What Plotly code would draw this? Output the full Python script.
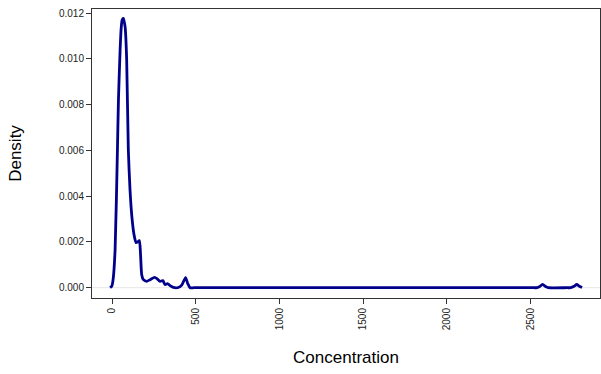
import plotly.graph_objects as go

# Density curve points (Concentration vs Density)
concentration = [-12, -2, 6, 18, 32, 38, 48, 54, 60, 67.5, 73, 78, 87, 97, 107, 118, 131, 143, 152, 163,
                 170, 177, 187, 207, 227, 254, 269, 287, 303, 317, 331, 346, 366, 396, 416, 439, 452, 466,
                 490, 1500, 2520,
                 2540, 2555, 2572, 2590, 2605, 2720, 2740, 2760, 2776, 2792, 2808]
density = [0.0, 0.00006, 0.00035, 0.00166, 0.00604, 0.0082, 0.0104, 0.0113, 0.0117, 0.01177, 0.0116,
           0.01139, 0.00999, 0.00604, 0.00429, 0.00312, 0.00232, 0.00197, 0.0020, 0.00206,
           0.00145, 0.00057, 0.00035, 0.00028, 0.00035, 0.00045, 0.00039, 0.00028, 0.00031, 0.00013,
           0.00018, 0.00009, 0.00001, 0.00001, 0.00011, 0.00044, 0.00018, 0.0,
           0.0, 0.0, 0.0,
           0.0, 0.00005, 0.00014, 0.00005, 0.0, 0.0, 0.0, 0.00006, 0.00014, 0.00006, 0.00001]

x_ticks = [0, 500, 1000, 1500, 2000, 2500]
y_ticks = [0.000, 0.002, 0.004, 0.006, 0.008, 0.010, 0.012]
y_tick_labels = ["0.000", "0.002", "0.004", "0.006", "0.008", "0.010", "0.012"]

fig = go.Figure()
fig.add_hline(y=0, line=dict(color="#e6e6e6", width=1), layer="below")
fig.add_trace(go.Scatter(
    x=concentration, y=density, mode="lines",
    line=dict(color="#00008B", width=2.8, shape="spline", smoothing=0.6),
    showlegend=False, hoverinfo="skip",
))

font = "Liberation Sans, Arial, sans-serif"
fig.update_layout(
    width=601, height=374,
    margin=dict(l=92, r=1, t=9, b=76),
    paper_bgcolor="white", plot_bgcolor="white",
    font=dict(family=font, color="black"),
    xaxis=dict(
        range=[-120, 2915], tickvals=x_ticks, ticktext=[str(v) for v in x_ticks],
        tickangle=-90, ticks="outside", ticklen=5, tickwidth=1, tickcolor="#333333",
        tickfont=dict(size=10, color="#222222"),
        showline=True, linecolor="#333333", linewidth=1, mirror=True,
        showgrid=False, zeroline=False,
        title=dict(text="Concentration", font=dict(size=17, color="black"), standoff=21),
    ),
    yaxis=dict(
        range=[-0.00045, 0.01218], tickvals=y_ticks, ticktext=y_tick_labels,
        ticks="outside", ticklen=5, tickwidth=1, tickcolor="#333333",
        tickfont=dict(size=10, color="#222222"),
        showline=True, linecolor="#333333", linewidth=1, mirror=True,
        showgrid=False, zeroline=False,
        title=dict(text="Density", font=dict(size=17, color="black"), standoff=33),
    ),
)

fig.write_html("out.html")
